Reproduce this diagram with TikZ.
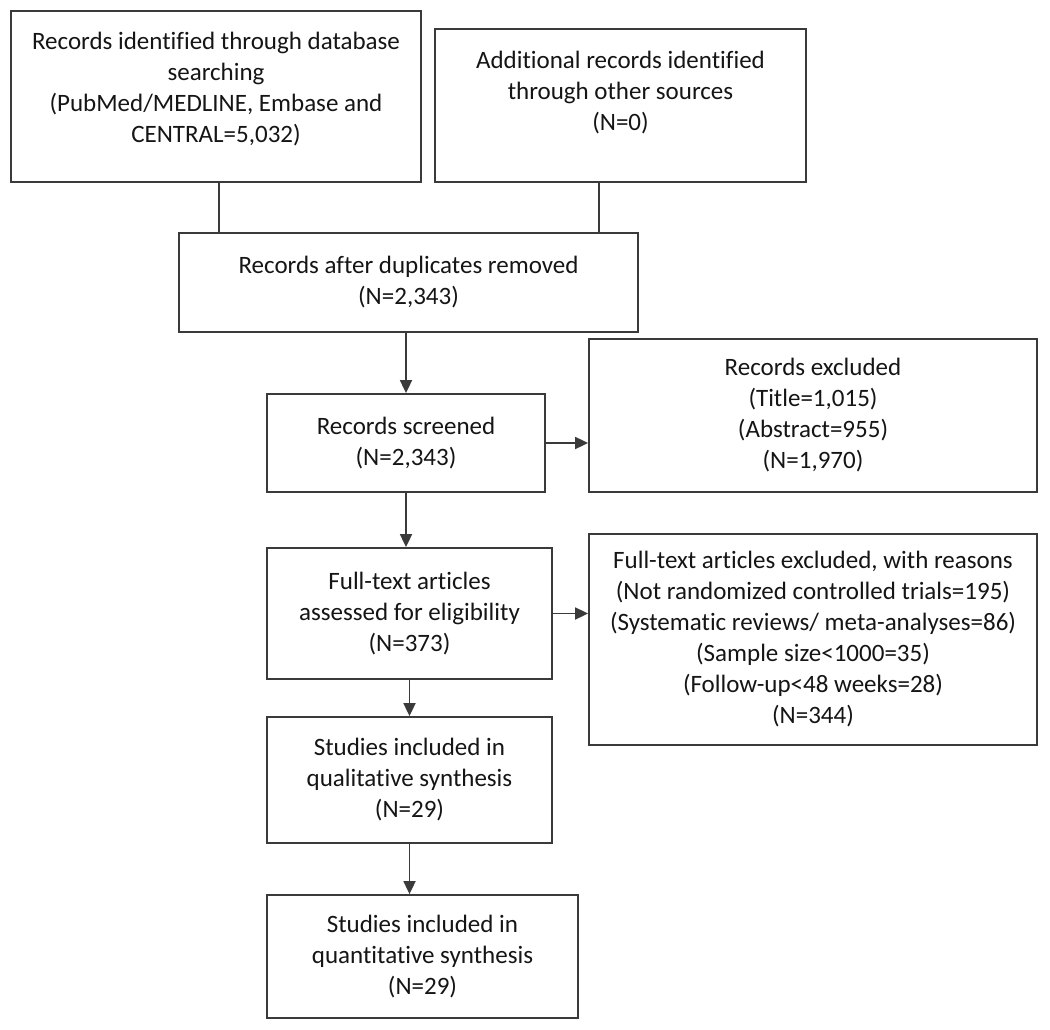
\documentclass[tikz,border=0pt]{standalone}
\usepackage{fontspec}
\setmainfont{Carlito}[Ligatures=NoCommon]
\usepackage{xcolor}
\definecolor{edge}{HTML}{3A3A3A}
\definecolor{ink}{HTML}{151515}
\usetikzlibrary{arrows.meta}

\begin{document}
\begin{tikzpicture}[
  x=1pt, y=-1pt,
  box/.style={draw=edge, line width=1.8pt, fill=white, text=ink, inner sep=0pt, align=center, font=\fontsize{25}{31}\selectfont},
  line/.style={draw=edge, line width=1.8pt},
  arr/.style={line, -{Triangle[length=13pt, width=12pt]}}
]
  \useasboundingbox (0,0) rectangle (1050,1030);

  \node[box, minimum width=410pt, minimum height=171pt, text depth=19pt] (db) at (216,96.5) {Records identified through database\\searching\\(PubMed/MEDLINE, Embase and\\CENTRAL=5,032)};
  \node[box, minimum width=371pt, minimum height=153pt, text depth=30pt] (other) at (620.5,105.5) {Additional records identified\\through other sources\\(N=0)};
  \node[box, minimum width=459pt, minimum height=99pt] (dedup) at (408.5,282.5) {Records after duplicates removed\\(N=2,343)};
  \node[box, minimum width=278pt, minimum height=98pt] (screened) at (406,443) {Records screened\\(N=2,343)};
  \node[box, minimum width=448pt, minimum height=153pt] (excl) at (813,415.5) {Records excluded\\(Title=1,015)\\(Abstract=955)\\(N=1,970)};
  \node[box, minimum width=285pt, minimum height=131pt] (fulltext) at (409.5,613.5) {Full-text articles\\assessed for eligibility\\(N=373)};
  \node[box, minimum width=448pt, minimum height=211pt] (ftexcl) at (813,639.5) {Full-text articles excluded, with reasons\\(Not randomized controlled trials=195)\\(Systematic reviews/ meta-analyses=86)\\(Sample size<1000=35)\\(Follow-up<48 weeks=28)\\(N=344)};
  \node[box, minimum width=285pt, minimum height=126pt] (qual) at (409.5,780) {Studies included in\\qualitative synthesis\\(N=29)};
  \node[box, minimum width=311pt, minimum height=123pt] (quant) at (422.5,956.5) {Studies included in\\quantitative synthesis\\(N=29)};

  \draw[line] ([xshift=3pt]db.south) -- ([xshift=3pt]db.south |- dedup.north);
  \draw[line] ([xshift=-21.5pt]other.south) -- ([xshift=-21.5pt]other.south |- dedup.north);
  \draw[arr] (dedup.south -| screened.north) -- (screened.north);
  \draw[arr] (screened.east) -- (screened.east -| excl.west);
  \draw[arr] (screened.south) -- (screened.south |- fulltext.north);
  \draw[arr] (fulltext.east) -- (fulltext.east -| ftexcl.west);
  \draw[arr] (fulltext.south) -- (qual.north);
  \draw[arr] (qual.south) -- (qual.south |- quant.north);
\end{tikzpicture}
\end{document}
